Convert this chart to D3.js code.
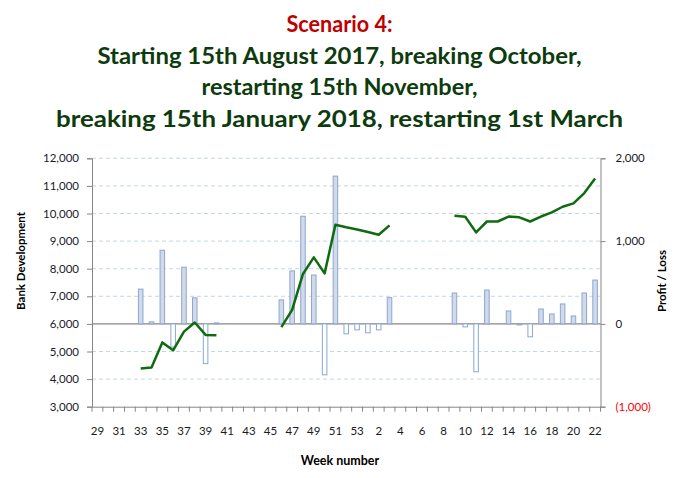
<!DOCTYPE html>
<html>
<head>
<meta charset="utf-8">
<script src="https://cdn.jsdelivr.net/npm/d3@7"></script>
<style>
  html, body { margin: 0; padding: 0; background: #fff; }
  svg { display: block; }
</style>
</head>
<body>
<svg id="chart" width="679" height="478"></svg>
<script>
// ---- Data ----
const weeks = ["29","30","31","32","33","34","35","36","37","38","39","40","41","42","43","44","45","46","47","48","49","50","51","52","53",
               "1","2","3","4","5","6","7","8","9","10","11","12","13","14","15","16","17","18","19","20","21","22"];
// Bank development (line, left axis)
const bank = [null,null,null,null,4380,4420,5330,5045,5720,6050,5600,5590,null,null,null,null,null,5880,6510,7810,8410,7830,9590,9500,9420,
              9330,9230,9570,null,null,null,null,null,9920,9880,9315,9710,9710,9890,9860,9710,9890,10040,10245,10365,10740,11270];
// Weekly profit / loss (bars, right axis)
const profit = [null,null,null,null,420,25,890,-280,685,315,-480,12,null,null,null,null,null,290,640,1300,590,-615,1785,-120,-72,
                -108,-72,317,null,null,null,null,null,373,-36,-578,409,null,156,-12,-156,180,120,241,96,373,530];
const leftTicks = [3000,4000,5000,6000,7000,8000,9000,10000,11000,12000];
const rightTicks = [-1000,0,1000,2000];
const titleLines = ["Scenario 4:", "Starting 15th August 2017, breaking October,", "restarting 15th November,", "breaking 15th January 2018, restarting 1st March"];

// ---- Layout ----
const svg = d3.select("#chart");
const x0 = 92, x1 = 600.5, yTop = 158.3, yBot = 406.7;
const x = d3.scaleBand().domain(weeks.map((w,i)=>i)).range([x0, x1]).paddingInner(0).paddingOuter(0);
const yL = d3.scaleLinear().domain([3000, 12000]).range([yBot, yTop]);
const yR = d3.scaleLinear().domain([-1000, 2000]).range([yBot, yTop]);
const font = "Lato, 'Open Sans', 'DejaVu Sans', sans-serif";

// Title
const titleY = [32, 63.5, 95, 127];
const titleW = [106, 484, 276, 567];
titleLines.forEach((t, i) => {
  svg.append("text")
    .attr("x", 339.5).attr("y", titleY[i])
    .attr("text-anchor", "middle")
    .attr("font-family", font).attr("font-weight", "bold").attr("font-size", 22)
    .attr("fill", i === 0 ? "#c00000" : "#0d3b0d")
    .attr("textLength", titleW[i]).attr("lengthAdjust", "spacingAndGlyphs")
    .text(t);
});

// Gridlines
svg.append("g").selectAll("line")
  .data(leftTicks.filter(v => v !== 3000 && v !== 6000))
  .join("line")
  .attr("x1", x0).attr("x2", x1)
  .attr("y1", d => yL(d)).attr("y2", d => yL(d))
  .attr("stroke", "#c5d6e6").attr("stroke-width", 1).attr("stroke-dasharray", "4,3");

// Left axis
const gL = svg.append("g").attr("transform", `translate(${x0},0)`)
  .call(d3.axisLeft(yL).tickValues(leftTicks).tickSize(5).tickPadding(8).tickFormat(d3.format(",")));
gL.select(".domain").attr("stroke", "#868686");
gL.selectAll(".tick line").attr("stroke", "#868686");
gL.selectAll("text").attr("font-family", font).attr("font-size", 11.5).attr("fill", "#1a1a2a");

// Right axis
const gR = svg.append("g").attr("transform", `translate(${x1},0)`)
  .call(d3.axisRight(yR).tickValues(rightTicks).tickSize(5).tickPadding(10)
    .tickFormat(d => d < 0 ? "(" + d3.format(",")(-d) + ")" : d3.format(",")(d)));
gR.select(".domain").attr("stroke", "#868686");
gR.selectAll(".tick line").attr("stroke", "#868686");
gR.selectAll("text").attr("font-family", font).attr("font-size", 11.5)
  .attr("fill", d => d < 0 ? "#ff0000" : "#1a1a2a");

// Bottom axis (category)
const gB = svg.append("g").attr("transform", `translate(0,${yBot})`)
  .call(d3.axisBottom(x).tickSize(0).tickPadding(20).tickFormat((d,i) => i % 2 === 0 ? weeks[i] : ""));
gB.select(".domain").attr("stroke", "#868686");
gB.selectAll("text").attr("font-family", font).attr("font-size", 11.5).attr("fill", "#1a1a1a");
// tick marks between categories
svg.append("g").selectAll("line")
  .data(d3.range(weeks.length + 1))
  .join("line")
  .attr("x1", i => x0 + i * x.step()).attr("x2", i => x0 + i * x.step())
  .attr("y1", yBot).attr("y2", yBot + 5)
  .attr("stroke", "#868686");

// Baseline at 6000 / 0
svg.append("line")
  .attr("x1", x0).attr("x2", x1)
  .attr("y1", yR(0)).attr("y2", yR(0))
  .attr("stroke", "#868686").attr("stroke-width", 1.2);

// Bars
const bw = x.bandwidth() * 0.42;
svg.append("g").selectAll("rect")
  .data(profit.map((v,i)=>({v,i})).filter(d => d.v !== null))
  .join("rect")
  .attr("x", d => x(d.i) + (x.bandwidth() - bw) / 2)
  .attr("width", bw)
  .attr("y", d => Math.min(yR(d.v), yR(0)))
  .attr("height", d => Math.abs(yR(d.v) - yR(0)))
  .attr("fill", d => d.v >= 0 ? "#d3d9e6" : "#ffffff")
  .attr("stroke", "#88a8d6").attr("stroke-width", 1);

// Line
const line = d3.line()
  .defined(d => d.v !== null)
  .x(d => x(d.i) + x.bandwidth() / 2)
  .y(d => yL(d.v));
svg.append("path")
  .datum(bank.map((v,i)=>({v,i})))
  .attr("d", line)
  .attr("fill", "none").attr("stroke", "#0f6b0f").attr("stroke-width", 2.5)
  .attr("stroke-linejoin", "round");

// Axis titles
svg.append("text")
  .attr("transform", "translate(25,261) rotate(-90)")
  .attr("text-anchor", "middle")
  .attr("font-family", font).attr("font-weight", "bold").attr("font-size", 11.5)
  .attr("fill", "#000").text("Bank Development");
svg.append("text")
  .attr("transform", "translate(666,281) rotate(-90)")
  .attr("text-anchor", "middle")
  .attr("font-family", font).attr("font-weight", "bold").attr("font-size", 11.5)
  .attr("fill", "#000").text("Profit / Loss");
svg.append("text")
  .attr("x", 340).attr("y", 465)
  .attr("text-anchor", "middle")
  .attr("font-family", font).attr("font-weight", "bold").attr("font-size", 12.5)
  .attr("fill", "#000").text("Week number");
</script>
</body>
</html>
